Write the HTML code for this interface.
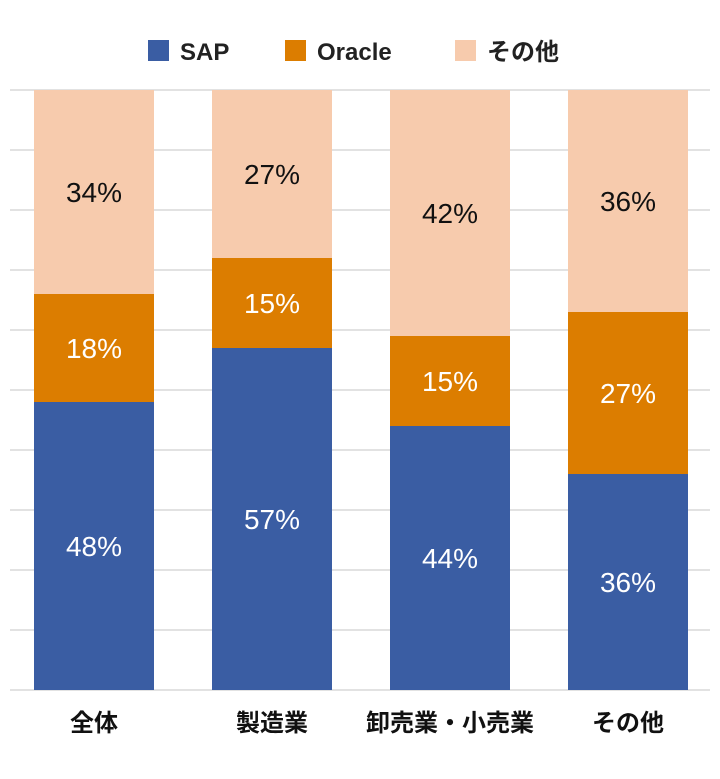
<!DOCTYPE html>
<html><head><meta charset="utf-8">
<style>
html,body{margin:0;padding:0;background:#fff;}
svg text{font-family:"Liberation Sans","Noto Sans CJK JP",sans-serif;}
</style></head>
<body>
<svg id="chart" width="720" height="774" viewBox="0 0 720 774" xmlns="http://www.w3.org/2000/svg">
<g id="legend">
  <g><rect x="148" y="40" width="21" height="21" fill="#3a5da3"/><text x="180" y="60" font-size="24" font-weight="bold" fill="#222">SAP</text></g>
  <g><rect x="285" y="40" width="21" height="21" fill="#dc7d00"/><text x="317" y="60" font-size="24" font-weight="bold" fill="#222">Oracle</text></g>
  <g><rect x="455" y="40" width="21" height="21" fill="#f7cbad"/><text x="487" y="60" font-size="24" font-weight="bold" fill="#222">その他</text></g>
</g>
<g id="grid"></g>
<g id="bars"></g>
<g id="cats"></g>
</svg>
<script>
const categories = ["全体","製造業","卸売業・小売業","その他"];
const sapValues = [48,57,44,36];
const oracleValues = [18,15,15,27];
const otherValues = [34,27,42,36];

const NS="http://www.w3.org/2000/svg";
const top0=90, bottom0=690, left0=34, step=178, barW=120;
const y = v => bottom0 - Math.min(100,Math.max(0,v))/100*(bottom0-top0);
const xPos = i => left0 + i*step;
const grid=document.getElementById('grid');
for(let k=0;k<=10;k++){
  const l=document.createElementNS(NS,'line');
  
  
  const yy=y(k*10);
  l.setAttribute('x1',10);l.setAttribute('x2',710);l.setAttribute('y1',yy);l.setAttribute('y2',yy);
  l.setAttribute('stroke','#d9d9d9');l.setAttribute('stroke-width','1.5');
  grid.appendChild(l);
}
const bars=document.getElementById('bars');
const cats=document.getElementById('cats');
const series=[["sap",sapValues,"#3a5da3","#fff"],["oracle",oracleValues,"#dc7d00","#fff"],["other",otherValues,"#f7cbad","#111"]];
categories.forEach((c,i)=>{
  let acc=0;
  series.forEach(([nm,arr,col,tc],si)=>{
    const v=arr[i];
    const y1=y(acc), y2= si===series.length-1 ? y(100) : y(acc+v);
    const r=document.createElementNS(NS,'rect');
    
    
    r.setAttribute('x',xPos(i));r.setAttribute('width',barW);
    r.setAttribute('y',y2);r.setAttribute('height',y1-y2);r.setAttribute('fill',col);
    bars.appendChild(r);
    const t=document.createElementNS(NS,'text');
    
    
    t.setAttribute('x',xPos(i)+barW/2);t.setAttribute('y',(y1+y2)/2+10);
    t.setAttribute('text-anchor','middle');t.setAttribute('font-size','28');
    t.setAttribute('fill',tc);
    t.textContent=arr[i]+'%';
    bars.appendChild(t);
    acc+=v;
  });
  const ct=document.createElementNS(NS,'text');
  
  
  ct.setAttribute('x',xPos(i)+barW/2);ct.setAttribute('y',731);
  ct.setAttribute('text-anchor','middle');ct.setAttribute('font-size','24');ct.setAttribute('font-weight','bold');
  ct.setAttribute('fill','#111');
  ct.textContent=c;
  cats.appendChild(ct);
});
</script>
</body></html>
